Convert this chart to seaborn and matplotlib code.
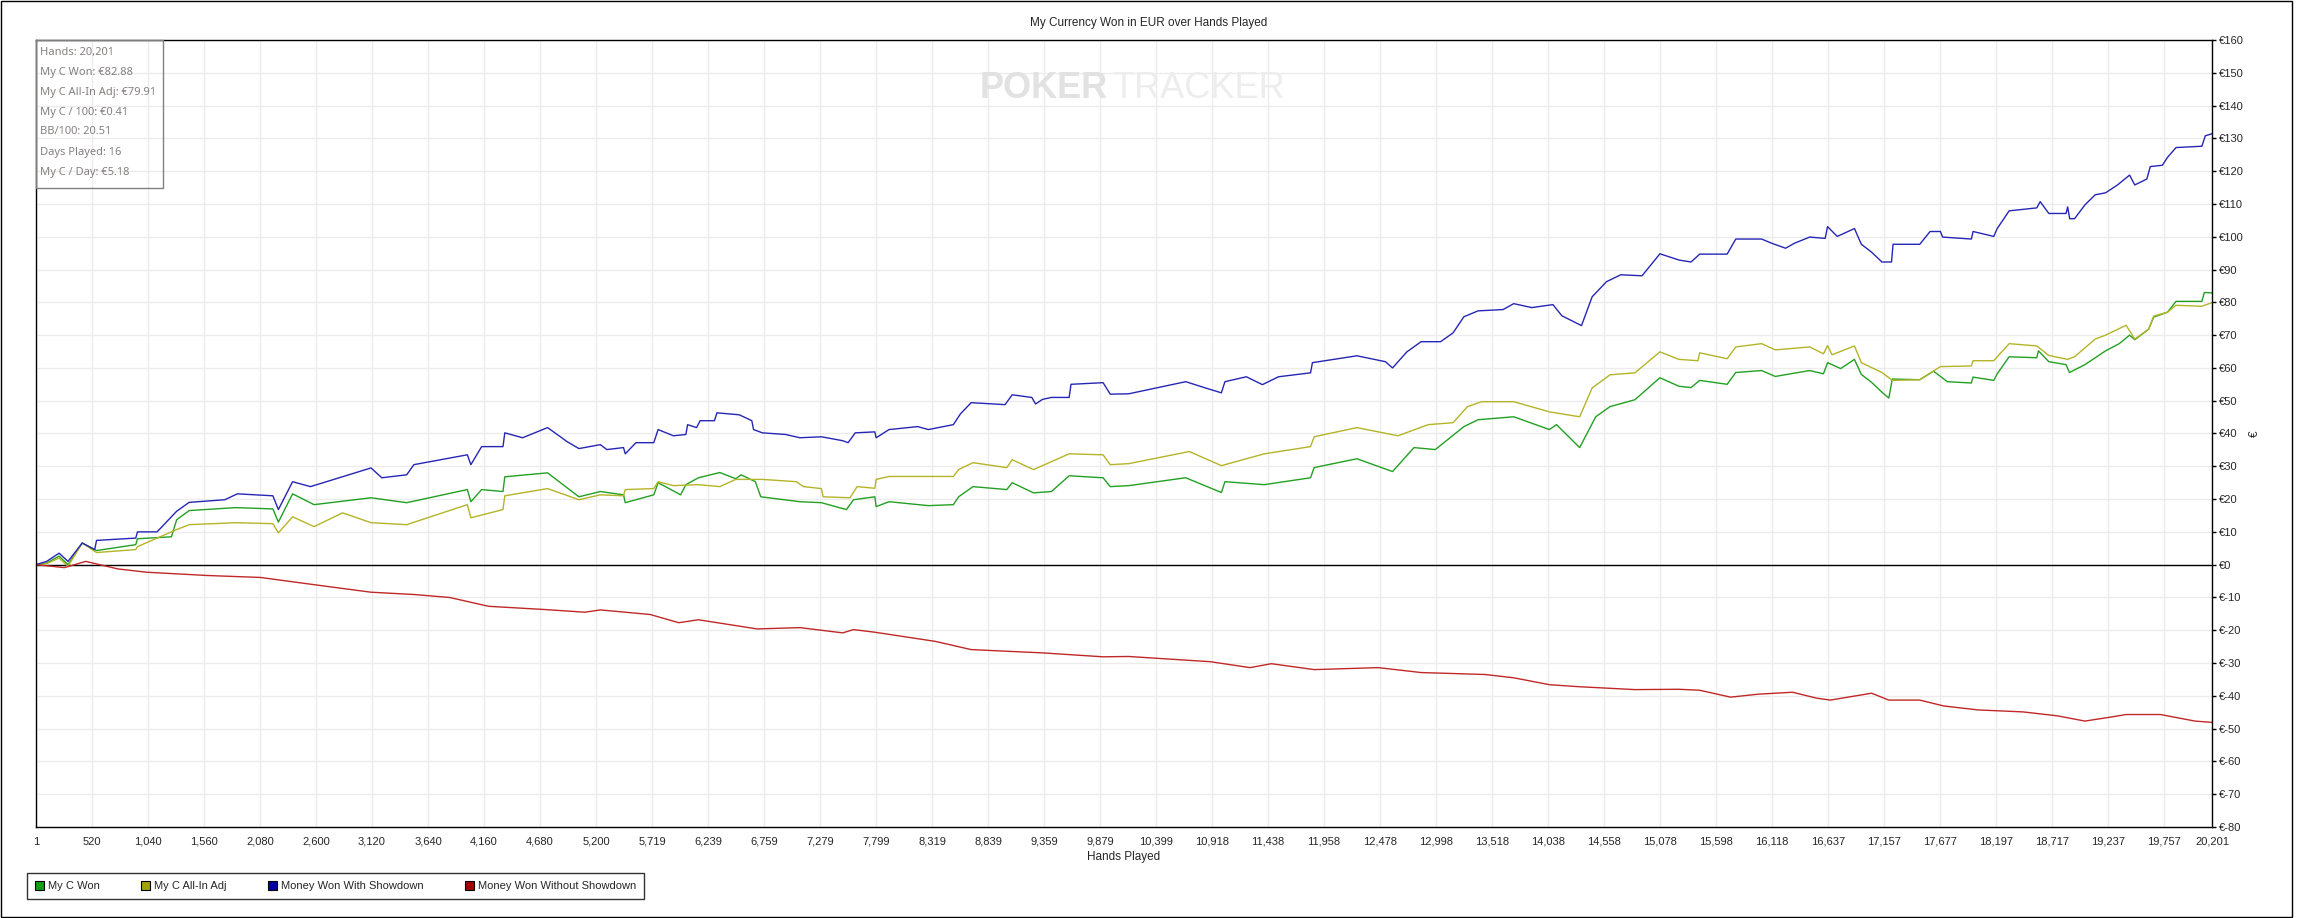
import numpy as np
import pandas as pd
import seaborn as sns
import matplotlib.pyplot as plt
from matplotlib import font_manager
from matplotlib.patches import Patch, Rectangle

sns.set_style("white")
plt.rcParams['font.family'] = ['Liberation Sans', 'DejaVu Sans']

# hands played vs cumulative winnings (EUR)
won_hands = [1, 100, 215, 298, 430, 563, 927, 943, 1258, 1307, 1423, 1854, 2200, 2251, 2383, 2582,
             3111, 3442, 4005, 4038, 4138, 4336, 4353, 4750, 5041, 5240, 5455, 5471, 5736, 5776,
             5985, 6034, 6150, 6349, 6497, 6547, 6679, 6729, 7093, 7292, 7524, 7590, 7788, 7800,
             7920, 8285, 8517, 8566, 8699, 9013, 9063, 9261, 9427, 9592, 9907, 9973, 10144, 10674,
             11005, 11038, 11403, 11833, 11866, 12263, 12594, 12793, 12991, 13256, 13388, 13719,
             14050, 14116, 14331, 14480, 14613, 14844, 15076, 15253, 15365, 15445, 15700, 15780,
             16020, 16147, 16466, 16594, 16632, 16754, 16882, 16946, 17041, 17137, 17201, 17233,
             17488, 17616, 17744, 17967, 17983, 18175, 18207, 18318, 18574, 18590, 18686, 18846,
             18878, 19021, 19213, 19340, 19436, 19484, 19612, 19660, 19788, 19867, 20107, 20130, 20201]
won_vals = [0, 0.5, 2.6, 0, 6.6, 4.3, 6.1, 7.9, 8.5, 13.7, 16.5, 17.4, 17, 13, 21.6, 18.3,
            20.4, 18.9, 22.9, 19.2, 22.9, 22.3, 26.8, 28, 20.7, 22.3, 21.3, 18.9, 21.3, 25,
            21.3, 24.4, 26.5, 28.1, 26.2, 27.4, 25.3, 20.7, 19.2, 18.9, 16.8, 19.8, 20.7, 17.7,
            19.2, 18.0, 18.3, 20.7, 23.8, 22.9, 25, 21.9, 22.3, 27.1, 26.5, 23.8, 24.1, 26.5,
            22, 25.3, 24.4, 26.5, 29.6, 32.3, 28.4, 35.7, 35.1, 42.1, 44.2, 45.1,
            41.2, 42.7, 35.7, 45.1, 48.2, 50.3, 57, 54.4, 54, 56.2, 55, 58.6,
            59.2, 57.4, 59.2, 58.2, 61.6, 59.8, 62.6, 58, 55.6, 52.6, 50.8, 56.6,
            56.4, 59, 55.8, 55.4, 57.2, 56.2, 58.2, 63.4, 63.1, 65.2, 61.9, 61,
            58.6, 61, 65.2, 67.4, 70, 68.6, 71.8, 75.5, 77, 80.3, 80.3, 83, 82.88]

adj_hands = [1, 100, 215, 298, 430, 563, 927, 943, 1307, 1423, 1854, 2200, 2251, 2383, 2582, 2847,
             3111, 3442, 4005, 4038, 4336, 4353, 4750, 5041, 5240, 5455, 5471, 5736, 5776, 5918,
             6150, 6349, 6497, 6745, 7060, 7126, 7292, 7308, 7557, 7623, 7788, 7800, 7920, 8517,
             8566, 8699, 9013, 9063, 9261, 9592, 9907, 9973, 10144, 10707, 11005, 11403, 11833,
             11866, 12263, 12644, 12925, 13156, 13289, 13421, 13719, 14050, 14331, 14447, 14613,
             14844, 15076, 15253, 15429, 15445, 15700, 15780, 16020, 16147, 16466, 16594, 16632,
             16674, 16882, 16946, 17137, 17233, 17488, 17680, 17967, 17983, 18175, 18318, 18574,
             18686, 18861, 18925, 19117, 19213, 19404, 19484, 19612, 19660, 19788, 19867, 20107, 20201]
adj_vals = [0, 0.3, 2, -0.5, 6.6, 3.7, 4.6, 5.5, 10.7, 12.2, 12.8, 12.5, 9.7, 14.6, 11.6, 15.8,
            12.8, 12.2, 18.3, 14.3, 16.8, 21, 23.2, 19.8, 21.3, 21, 22.9, 23.2, 25.3, 24.1,
            24.4, 23.8, 26, 26, 25.3, 23.8, 23.2, 20.7, 20.4, 23.8, 23.3, 26, 26.9, 26.9,
            29, 31.1, 29.6, 32, 29, 33.8, 33.5, 30.5, 30.8, 34.5, 30.2, 33.8, 36,
            39, 41.8, 39.3, 42.7, 43.3, 48.2, 49.7, 49.7, 46.6, 45.1, 53.9, 57.9,
            58.5, 64.9, 62.6, 62.2, 64.6, 62.8, 66.4, 67.4, 65.5, 66.4, 64.3, 66.8,
            64, 66.7, 61.6, 58.6, 56.2, 56.4, 60.4, 60.6, 62.2, 62.2, 67.4, 66.7,
            63.8, 62.6, 63.4, 68.8, 70, 73, 68.8, 71.8, 75.8, 77, 79.1, 78.8, 79.91]

sd_hands = [1, 100, 215, 298, 430, 546, 563, 927, 943, 1125, 1307, 1423, 1754, 1870, 2200, 2251,
            2383, 2549, 3111, 3211, 3442, 3509, 4005, 4038, 4138, 4336, 4353, 4518, 4750, 4932,
            5041, 5240, 5300, 5455, 5471, 5571, 5736, 5776, 5918, 6034, 6050, 6133, 6166, 6299,
            6322, 6530, 6646, 6662, 6745, 6960, 7093, 7292, 7490, 7540, 7606, 7788, 7800, 7920,
            8185, 8285, 8517, 8583, 8682, 8848, 8997, 9063, 9245, 9280, 9344, 9427, 9592, 9609,
            9907, 9973, 10144, 10674, 10856, 11005, 11038, 11237, 11386, 11535, 11833, 11850,
            12263, 12528, 12594, 12727, 12859, 13040, 13156, 13256, 13388, 13620, 13719, 13885,
            14083, 14166, 14348, 14447, 14580, 14712, 14910, 15076, 15253, 15365, 15445, 15700,
            15780, 16020, 16115, 16243, 16323, 16466, 16610, 16632, 16722, 16882, 16946, 17041,
            17137, 17226, 17240, 17488, 17584, 17680, 17700, 17967, 17983, 18175, 18207, 18318,
            18574, 18606, 18686, 18846, 18861, 18880, 18925, 19021, 19117, 19213, 19324, 19436,
            19484, 19596, 19628, 19740, 19788, 19867, 20107, 20139, 20201]
sd_vals = [0, 1, 3.5, 1, 6.6, 4.6, 7.4, 8.1, 10, 10, 16.3, 19, 19.8, 21.6, 21, 16.8,
           25.3, 23.8, 29.5, 26.5, 27.4, 30.5, 33.5, 30.5, 36, 36, 40.2, 38.7, 41.8, 37.5,
           35.4, 36.6, 35.1, 35.7, 33.8, 37.2, 37.2, 41.2, 39.3, 39.7, 42.7, 41.8, 43.9, 43.9,
           46.3, 45.7, 43.9, 41.2, 40.2, 39.7, 38.7, 39, 37.8, 37.2, 40.2, 40.5, 38.7, 41.2,
           42.1, 41.2, 42.7, 46, 49.4, 49.1, 48.8, 51.8, 51, 49, 50.4, 51, 51, 55,
           55.5, 52, 52.1, 55.8, 53.9, 52.4, 55.8, 57.3, 54.9, 57.3, 58.5, 61.6,
           63.7, 61.9, 60, 64.9, 68, 68, 70.7, 75.6, 77.4, 77.8, 79.6, 78.4,
           79.3, 75.9, 72.9, 81.7, 86.3, 88.4, 88.1, 94.8, 92.9, 92.3, 94.7, 94.7,
           99.3, 99.3, 98, 96.5, 98, 99.9, 99.5, 103.1, 100.1, 102.5, 97.7, 95.3,
           92.3, 92.3, 97.7, 97.7, 101.6, 101.6, 99.9, 99.3, 101.6, 100.1, 102.5, 107.9,
           108.8, 110.7, 107.1, 107.1, 109.1, 105.5, 105.5, 109.7, 112.8, 113.4, 115.8, 118.8,
           115.8, 117.6, 121.4, 121.8, 124.2, 127.2, 127.6, 130.8, 131.4]

nsd_hands = [1, 265, 463, 761, 1026, 1589, 2085, 2582, 3111, 3509, 3840, 4204, 4733, 5097, 5240,
             5703, 5968, 6150, 6696, 7093, 7490, 7590, 7788, 8351, 8682, 9344, 9907, 10144, 10906,
             11270, 11469, 11866, 12462, 12859, 13455, 13719, 14050, 14315, 14844, 15253, 15445,
             15732, 15988, 16307, 16530, 16658, 17041, 17201, 17488, 17712, 18031, 18446, 18766,
             19021, 19276, 19404, 19723, 20043, 20201]
nsd_vals = [0, -0.9, 1, -1.3, -2.3, -3.3, -3.9, -6.1, -8.4, -9.1, -10, -12.7, -13.7, -14.5, -13.8,
            -15.2, -17.7, -16.8, -19.6, -19.2, -20.8, -19.8, -20.6, -23.4, -25.9, -26.9, -28.1, -28, -29.6,
            -31.4, -30.2, -32, -31.4, -32.9, -33.5, -34.5, -36.6, -37.2, -38.1, -38, -38.3,
            -40.4, -39.5, -38.9, -40.7, -41.3, -39.2, -41.3, -41.3, -43.1, -44.3, -44.9, -46.1,
            -47.7, -46.4, -45.7, -45.7, -47.7, -48.1]

series_names = ['My C Won', 'My C All-In Adj', 'Money Won With Showdown', 'Money Won Without Showdown']
x_ticks = [1, 520, 1040, 1560, 2080, 2600, 3120, 3640, 4160, 4680, 5200, 5719, 6239, 6759, 7279,
           7799, 8319, 8839, 9359, 9879, 10399, 10918, 11438, 11958, 12478, 12998, 13518, 14038,
           14558, 15078, 15598, 16118, 16637, 17157, 17677, 18197, 18717, 19237, 19757, 20201]
y_ticks = list(range(-80, 170, 10))
stats = ['Hands: 20,201', 'My C Won: €82.88', 'My C All-In Adj: €79.91', 'My C / 100: €0.41',
         'BB/100: 20.51', 'Days Played: 16', 'My C / Day: €5.18']

line_colors = ['#22a022', '#b4b428', '#2626b4', '#c02828']
box_colors = ['#139f13', '#a3a300', '#0000a3', '#a30000']

frames = []
for name, h, v in zip(series_names, [won_hands, adj_hands, sd_hands, nsd_hands],
                      [won_vals, adj_vals, sd_vals, nsd_vals]):
    frames.append(pd.DataFrame({'hands': h, 'won': v, 'series': name}))
df = pd.concat(frames, ignore_index=True)

W, H = 2297, 918
fig = plt.figure(figsize=(W / 100, H / 100), dpi=100)
ax = fig.add_axes([36 / W, 1 - 827 / H, (2212 - 36) / W, (827 - 40) / H])

ax.axhline(0, color='black', lw=1.0, zorder=1)
sns.lineplot(data=df, x='hands', y='won', hue='series', palette=dict(zip(series_names, line_colors)),
             estimator=None, sort=False, linewidth=1.0, legend=False, ax=ax, zorder=2)

ax.set_xlim(1, 20201)
ax.set_ylim(-80, 160)
ax.set_xticks(x_ticks)
ax.set_xticklabels([f'{t:,}' for t in x_ticks], fontsize=8)
ax.yaxis.tick_right()
ax.yaxis.set_label_position('right')
ax.set_yticks(y_ticks)
ax.set_yticklabels([f'€{t}' for t in y_ticks], fontsize=8)
ax.tick_params(axis='both', length=3, width=1, color='black', pad=2, direction='out')
ax.tick_params(axis='x', pad=4)
ax.grid(True, color='#ececec', lw=1.0, zorder=0)
ax.set_axisbelow(True)
for s in ax.spines.values():
    s.set_color('black')
    s.set_linewidth(1.0)
ax.set_xlabel('Hands Played', fontsize=8.5, labelpad=3)
ax.set_ylabel('€', fontsize=8.5, labelpad=4)

fig.text(0.5, 1 - 23 / H, 'My Currency Won in EUR over Hands Played', ha='center', va='center', fontsize=8.5)

# watermark
names = [f.name for f in font_manager.fontManager.ttflist]
wm_font = 'Liberation Sans Narrow' if 'Liberation Sans Narrow' in names else 'Liberation Sans'
wm_size = 32 if wm_font == 'Liberation Sans Narrow' else 26
fig.text(1108 / W, 1 - 89 / H, 'POKER', ha='right', va='center', fontsize=wm_size,
         fontweight='bold', family=wm_font, color='#e2e2e2', zorder=0)
fig.text(1112 / W, 1 - 89 / H, 'TRACKER', ha='left', va='center', fontsize=wm_size,
         family=wm_font, color='#ededed', zorder=0)

# stats box
fig.patches.append(Rectangle((36 / W, 1 - 188 / H), 127 / W, 148 / H, transform=fig.transFigure,
                             fill=False, edgecolor='#808080', lw=1.0))
for i, s in enumerate(stats):
    fig.text(40 / W, 1 - (52 + 20 * i) / H, s, ha='left', va='center', fontsize=8,
             family=['Noto Sans', 'DejaVu Sans'], color='#858080')

# outer border
fig.patches.append(Rectangle((0.5 / W, 1 / H), 2291.5 / W, 916.5 / H, transform=fig.transFigure,
                             fill=False, edgecolor='black', lw=1.0))

handles = [Patch(facecolor=c, edgecolor='black', lw=0.8) for c in box_colors]
leg = fig.legend(handles, series_names, loc='lower left', bbox_to_anchor=(27 / W, 1 - 899 / H),
                 ncol=4, fontsize=8, frameon=True, fancybox=False, edgecolor='black',
                 handlelength=0.8, handleheight=0.8, handletextpad=0.4, columnspacing=3.7,
                 borderpad=0.7, borderaxespad=0)
leg.get_frame().set_linewidth(1.0)

fig.savefig('out.png', dpi=100, facecolor='white')
